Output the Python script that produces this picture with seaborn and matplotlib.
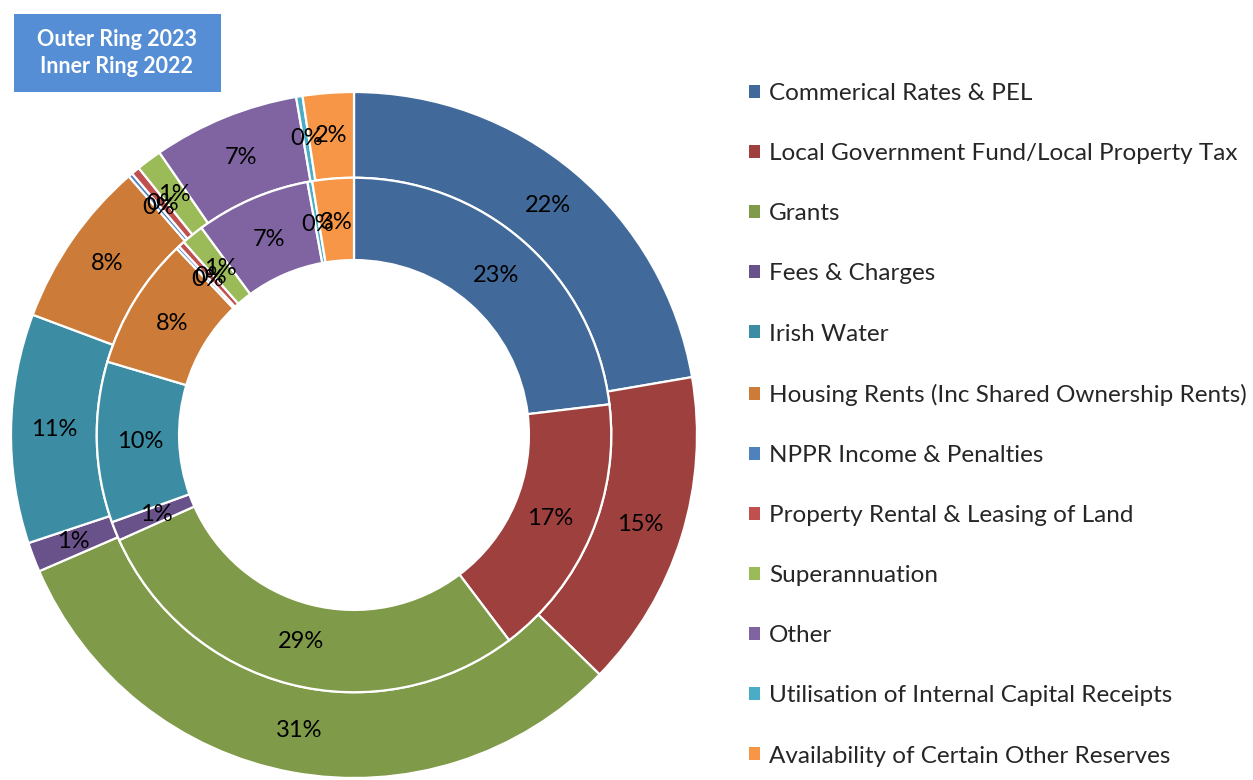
import numpy as np
import matplotlib.pyplot as plt
import seaborn as sns
from matplotlib.patches import Patch, Rectangle

sns.set_style("white")
plt.rcParams['font.family'] = ['Lato', 'DejaVu Sans']

categories = ["Commerical Rates & PEL", "Local Government Fund/Local Property Tax", "Grants",
              "Fees & Charges", "Irish Water", "Housing Rents (Inc Shared Ownership Rents)",
              "NPPR Income & Penalties", "Property Rental & Leasing of Land", "Superannuation",
              "Other", "Utilisation of Internal Capital Receipts", "Availability of Certain Other Reserves"]

# share of income in percent
outer_2023 = [22.3, 15.0, 31.2, 1.4, 10.8, 7.9, 0.2, 0.4, 1.2, 6.9, 0.3, 2.4]
inner_2022 = [23.1, 16.6, 28.6, 1.2, 10.1, 8.3, 0.2, 0.4, 1.4, 7.2, 0.3, 2.6]

colors = ["#416A9B", "#9E413E", "#7F9A48", "#69518A", "#3C8DA3", "#CC7B38",
          "#4F81BD", "#C0504D", "#9BBB59", "#8064A2", "#4BACC6", "#F79646"]

fig = plt.figure(figsize=(12.53, 7.80), dpi=100)
ax = fig.add_axes([11 / 1253, 2 / 780, 686 / 1253, 686 / 780])

wedge = dict(edgecolor="white", linewidth=1.6)
ax.pie(outer_2023, radius=1.0, colors=colors, startangle=90, counterclock=False,
       wedgeprops=dict(width=0.25, **wedge), autopct="%.0f%%", pctdistance=0.875,
       textprops=dict(fontsize=17, color="black"))
ax.pie(inner_2022, radius=0.75, colors=colors, startangle=90, counterclock=False,
       wedgeprops=dict(width=0.24, **wedge), autopct="%.0f%%", pctdistance=0.83,
       textprops=dict(fontsize=17, color="black"))
ax.set_xlim(-1, 1)
ax.set_ylim(-1, 1)
ax.set_aspect("equal")
ax.axis("off")

handles = [Patch(facecolor=c, edgecolor="none") for c in colors]
fig.legend(handles, categories, loc="upper left", bbox_to_anchor=(749 / 1253, 1 - 83 / 780),
           frameon=False, fontsize=17.5, handlelength=0.45, handleheight=0.45,
           handletextpad=0.37, labelspacing=1.61, borderaxespad=0, borderpad=0)

# year box in the top left corner
fig.patches.append(Rectangle((14 / 1253, 1 - 92 / 780), 207 / 1253, 78 / 780,
                             transform=fig.transFigure, facecolor="#558ED5", edgecolor="none"))
fig.text(117 / 1253, 1 - 53 / 780, "Outer Ring 2023\nInner Ring 2022", color="white",
         fontsize=15.5, fontweight="bold", ha="center", va="center", linespacing=1.3)

fig.savefig("out.png", dpi=100)
